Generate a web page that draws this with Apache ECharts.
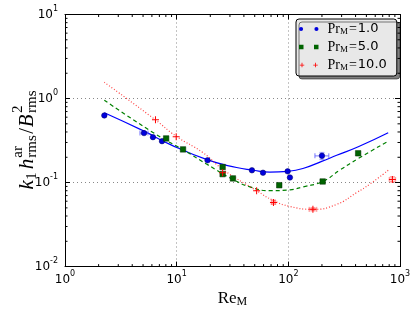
<!DOCTYPE html>
<html><head><meta charset="utf-8">
<script src="https://cdn.jsdelivr.net/npm/echarts@6/dist/echarts.min.js"></script>
<style>html,body{margin:0;padding:0;background:#fff}#c{width:415px;height:313px}</style>
</head><body><div id="c"></div>
<script>
// ---- tick labels (exponents of 10) ----
const xTickExps = [0, 1, 2, 3];
const yTickExps = [-2, -1, 0, 1];
const minorMult = [2, 3, 4, 5, 6, 7, 8, 9];
const xDecades = [1, 10, 100];
const yDecades = [0.01, 0.1, 1];
const prValues = ['1.0', '5.0', '10.0'];

// ---- measured points ----
const blueX = [2.25, 5.10, 6.13, 7.39, 18.9, 47.2, 59.3, 98.6, 103.3, 200];
const blueY = [0.629, 0.388, 0.347, 0.311, 0.184, 0.140, 0.131, 0.136, 0.115, 0.208];
const greenX = [8.05, 11.4, 25.8, 25.8, 31.9, 82.9, 203, 422];
const greenY = [0.335, 0.248, 0.153, 0.126, 0.112, 0.093, 0.103, 0.223];
const redX = [6.46, 9.9, 25.8, 52.0, 73.6, 166, 855];
const redY = [0.559, 0.351, 0.131, 0.080, 0.058, 0.048, 0.109];

// ---- fit curves ----
const blueFitX = [2.25, 5.10, 8.71, 18.95, 34.4, 47.2, 68.4, 98.6, 135, 199, 271, 423, 784];
const blueFitY = [0.677, 0.409, 0.285, 0.186, 0.151, 0.141, 0.133, 0.136, 0.147, 0.179, 0.211, 0.267, 0.392];
const greenFitX = [2.25, 6.53, 11.46, 18.67, 31.9, 45.3, 68.4, 103.3, 136, 203, 290, 423, 784];
const greenFitY = [0.955, 0.374, 0.245, 0.165, 0.109, 0.089, 0.080, 0.082, 0.089, 0.103, 0.141, 0.193, 0.311];
const redFitX = [2.25, 6.39, 9.86, 17.2, 25.8, 52.0, 73.9, 103.3, 165, 271, 409, 538, 784];
const redFitY = [1.561, 0.563, 0.357, 0.227, 0.144, 0.080, 0.061, 0.052, 0.048, 0.055, 0.076, 0.096, 0.140];

// ---- error bars: [x, y, xlo, xhi, ylo, yhi] ----
const blueErr = [[5.10, 0.388, 4.69, 5.53, 0.375, 0.401], [200, 0.208, 173, 230, 0.189, 0.227]];
const redErr = [[73.6, 0.058, 70.6, 76.7, 0.0553, 0.0617], [166, 0.048, 154, 179, 0.0462, 0.0502], [855, 0.109, 804, 910, 0.102, 0.117]];

const X_MIN = 1, X_MAX = 1000, Y_MIN = 0.01, Y_MAX = 10;
const zip = (a, b) => a.map((v, i) => [v, b[i]]);

const minorData = [];
xDecades.forEach(d => minorMult.forEach(m => minorData.push([m * d, 1, 0])));
yDecades.forEach(d => minorMult.forEach(m => minorData.push([10, m * d, 1])));

const tickRich = {
  b: {fontFamily: 'DejaVu Sans', fontSize: 12, color: '#000', lineHeight: 20},
  s: {fontFamily: 'DejaVu Sans', fontSize: 8, color: '#000', lineHeight: 10, verticalAlign: 'top'}
};
function expLabel(exps) {
  return function (v) {
    const e = Math.round(Math.log10(v));
    if (exps.indexOf(e) < 0) return '';
    return '{b|10}{s|' + e + '}';
  };
}

function errRender(color) {
  return function (params, api) {
    const x = api.value(0), y = api.value(1);
    const xl = api.coord([api.value(2), y]), xh = api.coord([api.value(3), y]);
    const yl = api.coord([x, api.value(4)]), yh = api.coord([x, api.value(5)]);
    const c = 2.5;
    const st = {stroke: color, lineWidth: 1.5};
    return {type: 'group', children: [
      {type: 'line', shape: {x1: xl[0], y1: xl[1], x2: xh[0], y2: xh[1]}, style: st},
      {type: 'line', shape: {x1: xl[0], y1: xl[1] - c, x2: xl[0], y2: xl[1] + c}, style: st},
      {type: 'line', shape: {x1: xh[0], y1: xh[1] - c, x2: xh[0], y2: xh[1] + c}, style: st},
      {type: 'line', shape: {x1: yl[0], y1: yl[1], x2: yh[0], y2: yh[1]}, style: st},
      {type: 'line', shape: {x1: yl[0] - c, y1: yl[1], x2: yl[0] + c, y2: yl[1]}, style: st},
      {type: 'line', shape: {x1: yh[0] - c, y1: yh[1], x2: yh[0] + c, y2: yh[1]}, style: st}
    ]};
  };
}

// ---- y-axis label built from text pieces ----
const mctx = document.createElement('canvas').getContext('2d');
function tw(t, f) { mctx.font = f; return mctx.measureText(t).width; }
const F_MAIN = 'italic 21px "Liberation Serif"';
const F_UP = '21px "Liberation Serif"';
const F_SUB = '15px "Liberation Serif"';
const yLabelPieces = [
  {t: 'k', f: F_MAIN, dy: 0},
  {t: '1', f: F_SUB, dy: 5, pre: 0.5},
  {t: 'h', f: F_MAIN, dy: 0, pre: 3},
  {stack: [{t: 'ar', f: F_SUB, dy: -8.5}, {t: 'rms', f: F_SUB, dy: 5}], pre: 1},
  {t: '/', f: F_UP, dy: 0, pre: 1.5},
  {t: 'B', f: F_MAIN, dy: 0, pre: 0.5},
  {stack: [{t: '2', f: F_SUB, dy: -8.5}, {t: 'rms', f: F_SUB, dy: 5}], pre: 1.5}
];
const yLabelChildren = [];
let cx = 0;
yLabelPieces.forEach(p => {
  cx += p.pre || 0;
  const parts = p.stack || [p];
  let w = 0;
  parts.forEach(q => {
    yLabelChildren.push({type: 'text', x: cx, y: q.dy, style: {text: q.t, font: q.f, fill: '#000', verticalAlign: 'middle', align: 'left'}});
    w = Math.max(w, tw(q.t, q.f));
  });
  cx += w;
});
yLabelChildren.forEach(c => { c.x -= cx / 2; });

const legendIcons = {
  Pr1: 'path://M0.5,2a2,2 0 1,0 4,0a2,2 0 1,0 -4,0zM15.5,2a2,2 0 1,0 4,0a2,2 0 1,0 -4,0z',
  Pr5: 'path://M0,0h4.5v4.5h-4.5zM15,0h4.5v4.5h-4.5z',
  Pr10: 'path://M0,1.8h5v0.9h-5zM2.05,-0.3h0.9v5h-0.9zM15,1.8h5v0.9h-5zM17.05,-0.3h0.9v5h-0.9z'
};

const chart = echarts.init(document.getElementById('c'));
chart.setOption({
  animation: false,
  backgroundColor: '#fff',
  grid: {left: 65, right: 15, top: 14.5, bottom: 45.5},
  xAxis: [{
    type: 'log', logBase: 10, min: X_MIN, max: X_MAX, position: 'bottom',
    axisLine: {show: true, onZero: false, lineStyle: {color: '#000', width: 1}},
    axisTick: {show: true, inside: true, length: 5, lineStyle: {color: '#000'}},
    axisLabel: {formatter: expLabel(xTickExps), rich: tickRich, margin: 3},
    splitLine: {show: true, lineStyle: {color: '#888', type: [1, 3], width: 1}},
    name: '{a|Re}{s|M}', nameLocation: 'middle', nameGap: 20,
    nameTextStyle: {rich: {
      a: {fontFamily: 'Liberation Serif', fontSize: 17, lineHeight: 18, color: '#000'},
      s: {fontFamily: 'Liberation Serif', fontSize: 12, lineHeight: 8, verticalAlign: 'bottom', color: '#000'}
    }}
  }, {
    type: 'log', logBase: 10, min: X_MIN, max: X_MAX, position: 'top',
    axisLine: {show: true, onZero: false, lineStyle: {color: '#000', width: 1}},
    axisTick: {show: true, inside: true, length: 5, lineStyle: {color: '#000'}},
    axisLabel: {show: false}, splitLine: {show: false}
  }],
  yAxis: [{
    type: 'log', logBase: 10, min: Y_MIN, max: Y_MAX, position: 'left',
    axisLine: {show: true, onZero: false, lineStyle: {color: '#000', width: 1}},
    axisTick: {show: true, inside: true, length: 5, lineStyle: {color: '#000'}},
    axisLabel: {formatter: expLabel(yTickExps), rich: tickRich, margin: 7},
    splitLine: {show: true, lineStyle: {color: '#888', type: [1, 3], width: 1}}
  }, {
    type: 'log', logBase: 10, min: Y_MIN, max: Y_MAX, position: 'right',
    axisLine: {show: true, onZero: false, lineStyle: {color: '#000', width: 1}},
    axisTick: {show: true, inside: true, length: 5, lineStyle: {color: '#000'}},
    axisLabel: {show: false}, splitLine: {show: false}
  }],
  legend: {
    left: 296, top: 19, orient: 'vertical',
    backgroundColor: '#e8e8e8', borderColor: '#000', borderWidth: 1, borderRadius: 3,
    shadowColor: 'rgba(0,0,0,0.5)', shadowOffsetX: 3, shadowOffsetY: 3, shadowBlur: 0,
    padding: [3, 10, 4, 3], itemGap: 4, itemWidth: 19.5, itemHeight: 4.5,
    itemStyle: {borderWidth: 0},
    data: [
      {name: 'Pr1', icon: legendIcons.Pr1},
      {name: 'Pr5', icon: legendIcons.Pr5},
      {name: 'Pr10', icon: legendIcons.Pr10}
    ],
    formatter: function (name) {
      const v = {Pr1: prValues[0], Pr5: prValues[1], Pr10: prValues[2]}[name];
      return '{p|Pr}{m|M}{e|=}{v|' + v + '}';
    },
    textStyle: {padding: [0, 0, 0, 4], rich: {
      p: {fontFamily: 'Liberation Serif', fontSize: 14, lineHeight: 14, color: '#000'},
      m: {fontFamily: 'Liberation Serif', fontSize: 9, lineHeight: 6, verticalAlign: 'bottom', color: '#000'},
      e: {fontFamily: 'Liberation Serif', fontSize: 14, lineHeight: 14, color: '#000', padding: [0, 1, 0, 1]},
      v: {fontFamily: 'DejaVu Sans', fontSize: 13, lineHeight: 14, color: '#000'}
    }}
  },
  graphic: [{
    type: 'group', x: 27, y: 140, rotation: Math.PI / 2, children: yLabelChildren
  }],
  series: [
    {type: 'custom', name: 'minor', xAxisIndex: 0, yAxisIndex: 0, silent: true, clip: false, z: 1,
      encode: {x: 0, y: 1}, data: minorData,
      renderItem: function (params, api) {
        const a = api.value(0), b = api.value(1), kind = api.value(2);
        const L = 2.5, st = {stroke: '#000', lineWidth: 1};
        if (kind === 0) {
          const p1 = api.coord([a, Y_MIN]), p2 = api.coord([a, Y_MAX]);
          return {type: 'group', children: [
            {type: 'line', shape: {x1: p1[0], y1: p1[1], x2: p1[0], y2: p1[1] - L}, style: st},
            {type: 'line', shape: {x1: p2[0], y1: p2[1], x2: p2[0], y2: p2[1] + L}, style: st}]};
        }
        const q1 = api.coord([X_MIN, b]), q2 = api.coord([X_MAX, b]);
        return {type: 'group', children: [
          {type: 'line', shape: {x1: q1[0], y1: q1[1], x2: q1[0] + L, y2: q1[1]}, style: st},
          {type: 'line', shape: {x1: q2[0], y1: q2[1], x2: q2[0] - L, y2: q2[1]}, style: st}]};
      }},
    {type: 'line', name: 'fit1', data: zip(blueFitX, blueFitY), smooth: true, showSymbol: false, silent: true,
      lineStyle: {color: '#0000ff', width: 1.2}, z: 2},
    {type: 'line', name: 'fit5', data: zip(greenFitX, greenFitY), smooth: true, showSymbol: false, silent: true,
      lineStyle: {color: '#008000', width: 1.2, type: [4, 3]}, z: 2},
    {type: 'line', name: 'fit10', data: zip(redFitX, redFitY), smooth: true, showSymbol: false, silent: true,
      lineStyle: {color: '#ff0000', width: 1.2, type: [1, 2], opacity: 0.75}, z: 2},
    {type: 'custom', name: 'err1', encode: {x: 0, y: 1}, data: blueErr, renderItem: errRender('rgba(90,90,255,0.55)'), z: 3, silent: true},
    {type: 'custom', name: 'err10', encode: {x: 0, y: 1}, data: redErr, renderItem: errRender('rgba(255,90,90,0.55)'), z: 3, silent: true},
    {type: 'scatter', name: 'Pr1', data: zip(blueX, blueY), symbol: 'circle', symbolSize: 5.5,
      itemStyle: {color: '#0000dd', borderColor: '#000060', borderWidth: 0.5, opacity: 1}, z: 4},
    {type: 'scatter', name: 'Pr5', data: zip(greenX, greenY), symbol: 'rect', symbolSize: 5.5,
      itemStyle: {color: '#006400', borderColor: '#002a00', borderWidth: 0.5, opacity: 1}, z: 4},
    {type: 'scatter', name: 'Pr10', data: zip(redX, redY), symbol: 'path://M0,3h7v1h-7zM3,0h1v7h-1z', symbolSize: 7,
      itemStyle: {color: '#ff0000', opacity: 1}, z: 4}
  ]
});
</script>
</body></html>
